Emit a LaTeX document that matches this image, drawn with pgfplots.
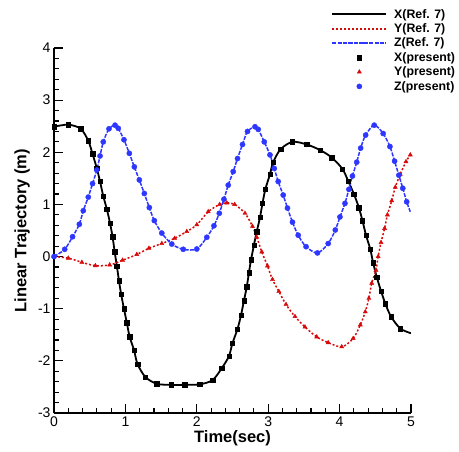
\documentclass[border=0pt]{standalone}
\usepackage{fontspec}
\setmainfont{Liberation Sans}
\usepackage{pgfplots}
\usepackage{pgfplotstable}
\pgfplotsset{compat=1.18}
\definecolor{myred}{RGB}{215,10,10}
\definecolor{myblue}{RGB}{45,55,255}

\pgfplotstableread{
t y
0 2.49
0.20 2.53
0.375 2.45
0.48 2.22
0.54 1.97
0.60 1.69
0.645 1.44
0.69 1.16
0.74 0.91
0.785 0.64
0.82 0.38
0.85 0.09
0.88 -0.18
0.91 -0.46
0.94 -0.72
0.98 -1.00
1.02 -1.27
1.06 -1.54
1.12 -1.79
1.17 -2.06
1.28 -2.31
1.44 -2.44
1.64 -2.46
1.83 -2.46
2.04 -2.45
2.22 -2.37
2.35 -2.14
2.45 -1.91
2.50 -1.66
2.57 -1.39
2.62 -1.12
2.66 -0.85
2.70 -0.58
2.73 -0.31
2.76 -0.06
2.80 0.22
2.84 0.48
2.885 0.75
2.92 1.02
2.96 1.29
3.025 1.58
3.07 1.81
3.175 2.06
3.34 2.20
3.54 2.15
3.73 2.04
3.89 1.90
4.04 1.68
4.12 1.45
4.20 1.20
4.27 0.94
4.32 0.69
4.37 0.41
4.43 0.14
4.47 -0.12
4.52 -0.39
4.58 -0.66
4.64 -0.90
4.72 -1.15
4.85 -1.38
5.00 -1.47
}\Xdata

\pgfplotstableread{
t y
0 0
0.20 -0.03
0.39 -0.11
0.58 -0.175
0.78 -0.16
0.96 -0.07
1.16 0.04
1.33 0.16
1.51 0.25
1.69 0.35
1.86 0.48
2.00 0.61
2.16 0.86
2.32 1.00
2.42 1.03
2.53 1.00
2.675 0.83
2.78 0.58
2.84 0.37
2.91 0.09
2.99 -0.18
3.06 -0.44
3.15 -0.67
3.25 -0.92
3.375 -1.15
3.515 -1.35
3.68 -1.54
3.84 -1.65
4.03 -1.73
4.19 -1.57
4.29 -1.31
4.36 -1.06
4.41 -0.80
4.45 -0.51
4.51 -0.26
4.54 0.00
4.58 0.27
4.63 0.54
4.67 0.80
4.73 1.07
4.78 1.33
4.85 1.58
4.93 1.82
4.99 1.95
}\Ydata

\pgfplotstableread{
t y
0 0
0.15 0.14
0.26 0.38
0.355 0.62
0.41 0.88
0.48 1.14
0.54 1.40
0.60 1.66
0.645 1.93
0.69 2.20
0.77 2.45
0.855 2.52
0.90 2.46
0.98 2.24
1.055 1.98
1.125 1.72
1.195 1.47
1.265 1.21
1.335 0.94
1.405 0.69
1.51 0.45
1.65 0.24
1.81 0.14
2.00 0.145
2.14 0.37
2.24 0.59
2.315 0.83
2.38 1.10
2.44 1.37
2.51 1.63
2.57 1.88
2.64 2.15
2.71 2.40
2.815 2.49
2.86 2.44
2.945 2.20
3.025 1.95
3.085 1.69
3.14 1.44
3.21 1.18
3.27 0.93
3.34 0.66
3.42 0.41
3.53 0.19
3.69 0.07
3.84 0.25
3.94 0.51
4.005 0.76
4.075 1.02
4.13 1.29
4.18 1.545
4.24 1.81
4.295 2.08
4.365 2.33
4.485 2.52
4.61 2.36
4.705 2.11
4.77 1.83
4.83 1.56
4.885 1.31
4.94 1.05
4.99 0.86
}\Zdata

\begin{document}
\begin{tikzpicture}
\begin{axis}[
 scale only axis, width=357pt, height=365pt,
 xmin=0, xmax=5, ymin=-3, ymax=4,
 axis x line*=bottom, axis y line*=left,
 axis line style={line width=1.6pt},
 xtick={0,...,5}, ytick={-3,...,4},
 minor x tick num=4, minor y tick num=4,
 tick align=inside,
 major tick length=9pt, minor tick length=5pt,
 every tick/.style={black, line width=1.1pt},
 tick label style={font=\fontsize{14}{14}\selectfont},
 /pgf/number format/assume math mode=true,
 xlabel={Time(sec)}, ylabel={Linear Trajectory (m)},
 every axis x label/.style={at={(axis description cs:0.5,0)},anchor=center,yshift=-25pt,
   font=\bfseries\fontsize{16.5}{18}\selectfont},
 every axis y label/.style={at={(axis description cs:-0.0896,0.5)},anchor=center,rotate=90,
   font=\bfseries\fontsize{16.5}{18}\selectfont},
 legend style={at={(rel axis cs:1.138,1.118)}, anchor=north east, draw=none, fill=none,
   font=\bfseries\fontsize{12.3}{13}\selectfont, row sep=0pt,
   /tikz/every odd column/.append style={column sep=5pt}},
 legend cell align=left,
 legend image code/.code={\draw[mark repeat=2,mark phase=2,#1] plot coordinates {(0pt,0pt) (27pt,0pt) (54pt,0pt)};},
]
\addplot[black, line width=1.8pt, smooth, no marks] table {\Xdata};
\addlegendentry{X(Ref. 7)}
\addplot[myred, line width=1.5pt, smooth, no marks, dash pattern=on 2pt off 2pt] table {\Ydata};
\addlegendentry{Y(Ref. 7)}
\addplot[myblue, line width=1.5pt, smooth, no marks, dash pattern=on 4pt off 1.3pt] table {\Zdata};
\addlegendentry{Z(Ref. 7)}
\addplot[only marks, mark=square*, mark size=2.2pt, black, restrict x to domain=0:4.9] table {\Xdata};
\addlegendentry{X(present)}
\addplot[only marks, mark=triangle*, mark size=2.4pt, myred, restrict x to domain=0:5] table {\Ydata};
\addlegendentry{Y(present)}
\addplot[only marks, mark=*, mark size=2.6pt, myblue, restrict x to domain=0:4.95] table {\Zdata};
\addlegendentry{Z(present)}
\end{axis}
\pgfresetboundingbox
\path[use as bounding box] (-54pt,-38pt) rectangle (405pt,413pt);
\end{tikzpicture}
\end{document}
